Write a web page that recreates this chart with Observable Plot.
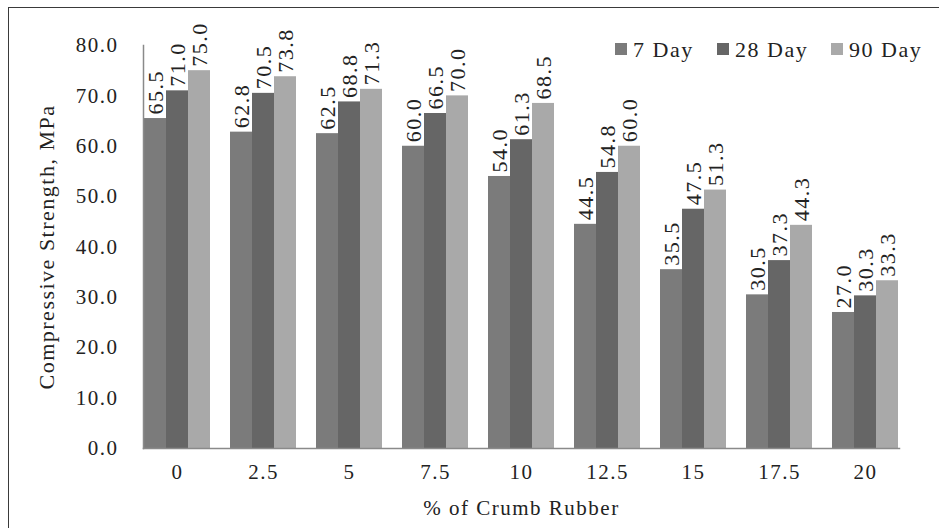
<!DOCTYPE html>
<html>
<head>
<meta charset="utf-8">
<script src="https://cdn.jsdelivr.net/npm/d3@7"></script>
<script src="https://cdn.jsdelivr.net/npm/@observablehq/plot@0.6"></script>
<style>
  html, body { margin: 0; padding: 0; background: #fff; overflow: hidden; }
  #wrap { position: relative; width: 939px; height: 528px; }
  #border { position: absolute; left: 8px; top: 7px; width: 1000px; height: 600px; border: 1.5px solid #3a3a3a; box-sizing: border-box; }
  #legend { position: absolute; top: 0; left: 0; font-family: "Liberation Serif", serif; font-size: 22px; letter-spacing: 1.5px; color: #222; }
  #legend .item { position: absolute; top: 37px; white-space: nowrap; }
  #legend span.sw { display: inline-block; width: 12px; height: 12px; margin-right: 6px; vertical-align: 2px; }
  #chart { position: absolute; left: 0; top: 0; }
</style>
</head>
<body>
<div id="wrap">
  <div id="border"></div>
  <div id="chart"></div>
  <div id="legend"></div>
</div>
<script>
const categories = ["0", "2.5", "5", "7.5", "10", "12.5", "15", "17.5", "20"];
const seriesNames = ["7 Day", "28 Day", "90 Day"];
const day7  = [65.5, 62.8, 62.5, 60.0, 54.0, 44.5, 35.5, 30.5, 27.0];
const day28 = [71.0, 70.5, 68.8, 66.5, 61.3, 54.8, 47.5, 37.3, 30.3];
const day90 = [75.0, 73.8, 71.3, 70.0, 68.5, 60.0, 51.3, 44.3, 33.3];
const yTicks = [0, 10, 20, 30, 40, 50, 60, 70, 80];
const colors = ["#7b7b7b", "#666666", "#a9a9a9"];
const legendLeft = [615, 717, 831];

const seriesValues = [day7, day28, day90];
const data = [];
categories.forEach((c, i) => {
  seriesNames.forEach((s, j) => data.push({cat: c, series: s, value: seriesValues[j][i]}));
});

const font = "Liberation Serif, serif";

const chart = Plot.plot({
  width: 939,
  height: 528,
  marginLeft: 132,
  marginRight: 30,
  marginTop: 45,
  marginBottom: 80,
  style: {fontFamily: font, fontSize: "21px", letterSpacing: "1.5px", color: "#222", background: "transparent"},
  fx: {domain: categories, paddingInner: 0.21, paddingOuter: 0.09, label: null},
  x: {domain: seriesNames, padding: 0, axis: null},
  y: {domain: [0, 80], ticks: yTicks, tickFormat: d3.format(".1f"), label: null},
  color: {domain: seriesNames, range: colors},
  marks: [
    Plot.barY(data, {fx: "cat", x: "series", y: "value", fill: "series"}),
    Plot.text(data, {fx: "cat", x: "series", y: "value", text: d => d.value.toFixed(1),
      rotate: -90, textAnchor: "start", dy: -4, fontSize: 22, fill: "#222"}),
    Plot.axisY({ticks: yTicks, tickFormat: d3.format(".1f"), tickSize: 0, tickPadding: 25, fontSize: 21, label: null}),
    Plot.axisFx({anchor: "bottom", tickSize: 0, tickPadding: 16, fontSize: 21, label: null}),
    Plot.frame({anchor: "left", facet: "super", stroke: "#8a8a8a", strokeWidth: 1.5}),
    Plot.frame({anchor: "bottom", facet: "super", stroke: "#8a8a8a", strokeWidth: 1.5}),
    Plot.text(["Compressive Strength, MPa"], {frameAnchor: "left", facet: "super", rotate: -90, textAnchor: "middle", dx: -97, fontSize: 22, fill: "#222"}),
    Plot.text(["% of Crumb Rubber"], {frameAnchor: "bottom", facet: "super", lineAnchor: "middle", dy: 60, fontSize: 21, fill: "#222"})
  ]
});
document.getElementById("chart").appendChild(chart);

const legend = document.getElementById("legend");
seriesNames.forEach((s, i) => {
  const item = document.createElement("div");
  item.className = "item";
  item.style.left = legendLeft[i] + "px";
  item.innerHTML = `<span class="sw" style="background:${colors[i]}"></span>${s}`;
  legend.appendChild(item);
});
</script>
</body>
</html>
